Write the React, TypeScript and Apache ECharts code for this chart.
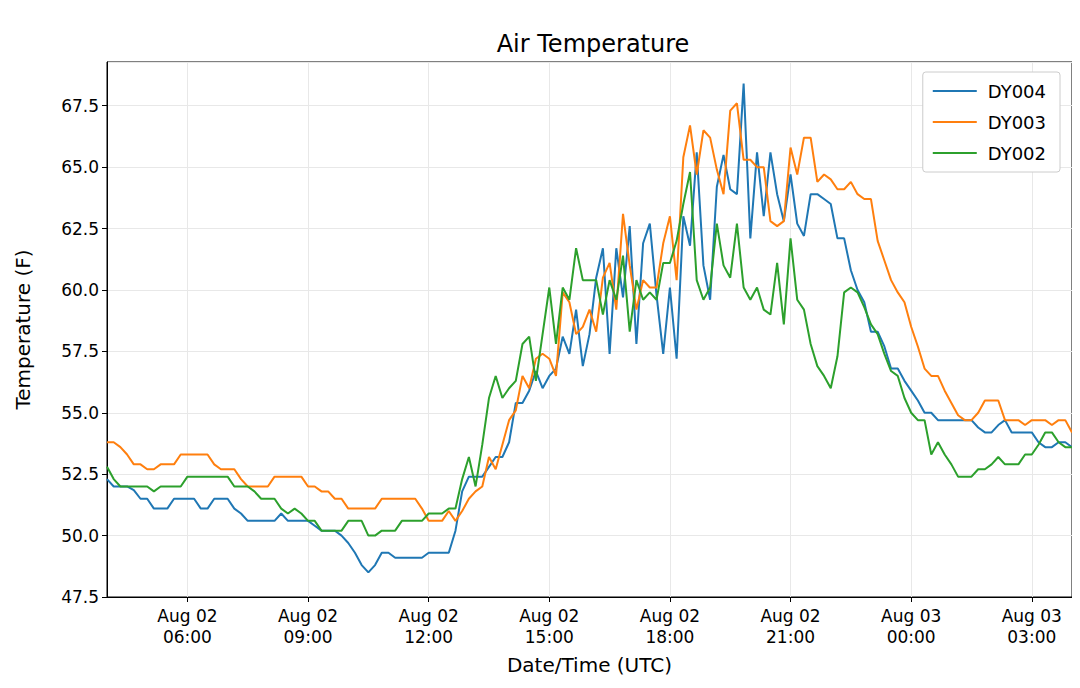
import React, { useEffect, useRef } from "react";
import * as echarts from "echarts";

// 10-minute samples starting Aug 02 04:00 UTC
const dy004 = [
  52.3,52.0,52.0,52.0,51.85,51.5,51.5,51.1,51.1,51.1,
  51.5,51.5,51.5,51.5,51.1,51.1,51.5,51.5,51.5,51.1,
  50.9,50.6,50.6,50.6,50.6,50.6,50.9,50.6,50.6,50.6,
  50.6,50.4,50.2,50.2,50.2,50.0,49.7,49.3,48.8,48.5,
  48.8,49.3,49.3,49.1,49.1,49.1,49.1,49.1,49.3,49.3,
  49.3,49.3,50.2,51.8,52.4,52.4,52.4,52.8,53.2,53.2,
  53.8,55.4,55.4,55.9,56.7,56.0,56.5,56.8,58.1,57.4,
  59.2,56.9,58.2,60.5,61.7,57.4,61.7,59.7,62.6,57.8,
  61.9,62.7,59.8,57.4,60.1,57.2,63.0,61.8,65.6,61.0,
  59.6,64.2,65.5,64.1,63.9,68.4,62.1,65.6,63.0,65.6,
  63.9,62.8,64.7,62.7,62.2,63.9,63.9,63.7,63.5,62.1,
  62.1,60.8,60.0,59.5,58.3,58.3,57.7,56.8,56.8,56.3,
  55.9,55.5,55.0,55.0,54.7,54.7,54.7,54.7,54.7,54.7,
  54.4,54.2,54.2,54.5,54.7,54.2,54.2,54.2,54.2,53.8,
  53.6,53.6,53.8,53.8,53.6,
];
const dy003 = [
  53.8,53.8,53.6,53.3,52.9,52.9,52.7,52.7,52.9,52.9,
  52.9,53.3,53.3,53.3,53.3,53.3,52.9,52.7,52.7,52.7,
  52.3,52.0,52.0,52.0,52.0,52.4,52.4,52.4,52.4,52.4,
  52.0,52.0,51.8,51.8,51.5,51.5,51.1,51.1,51.1,51.1,
  51.1,51.5,51.5,51.5,51.5,51.5,51.5,51.1,50.6,50.6,
  50.6,51.0,50.6,51.0,51.5,51.8,52.0,53.2,52.7,53.7,
  54.7,55.1,56.5,56.0,57.2,57.4,57.2,56.5,59.9,59.5,
  58.2,58.5,59.2,58.3,60.5,61.1,59.2,63.1,61.0,59.2,
  60.4,60.1,60.1,61.9,63.0,60.4,65.4,66.7,64.7,66.5,
  66.2,64.9,63.9,67.3,67.6,65.3,65.3,65.0,65.0,62.8,
  62.6,62.8,65.8,64.7,66.2,66.2,64.4,64.7,64.5,64.1,
  64.1,64.4,63.9,63.7,63.7,62.0,61.2,60.4,59.9,59.5,
  58.5,57.7,56.8,56.5,56.5,55.9,55.4,54.9,54.7,54.7,
  55.0,55.5,55.5,55.5,54.7,54.7,54.7,54.5,54.7,54.7,
  54.7,54.5,54.7,54.7,54.2,
];
const dy002 = [
  52.8,52.3,52.0,52.0,52.0,52.0,52.0,51.8,52.0,52.0,
  52.0,52.0,52.4,52.4,52.4,52.4,52.4,52.4,52.4,52.0,
  52.0,52.0,51.8,51.5,51.5,51.5,51.1,50.9,51.1,50.9,
  50.6,50.6,50.2,50.2,50.2,50.2,50.6,50.6,50.6,50.0,
  50.0,50.2,50.2,50.2,50.6,50.6,50.6,50.6,50.9,50.9,
  50.9,51.1,51.1,52.3,53.2,52.0,53.7,55.6,56.5,55.6,
  56.0,56.3,57.8,58.1,56.3,58.2,60.1,57.8,60.1,59.6,
  61.7,60.4,60.4,60.4,59.0,60.4,59.6,61.4,58.3,60.4,
  59.6,59.9,59.6,61.1,61.1,62.0,63.5,64.8,60.4,59.6,
  60.1,62.7,61.0,60.5,62.7,60.1,59.6,60.1,59.2,59.0,
  61.1,58.6,62.1,59.6,59.2,57.8,56.9,56.5,56.0,57.3,
  59.9,60.1,59.9,59.3,58.6,58.2,57.4,56.7,56.5,55.6,
  55.0,54.7,54.7,53.3,53.8,53.3,52.9,52.4,52.4,52.4,
  52.7,52.7,52.9,53.2,52.9,52.9,52.9,53.3,53.3,53.7,
  54.2,54.2,53.8,53.6,53.6,
];
// hours after Aug 02 04:00 where date/time labels sit
const tickHours = [2, 5, 8, 11, 14, 17, 20, 23];
const tickLabels = [
  "Aug 02\n06:00", "Aug 02\n09:00", "Aug 02\n12:00", "Aug 02\n15:00",
  "Aug 02\n18:00", "Aug 02\n21:00", "Aug 03\n00:00", "Aug 03\n03:00",
];

const toPairs = (arr: number[]) => arr.map((v, i) => [i / 6, v]);

export default function App() {
  const ref = useRef<HTMLDivElement>(null);
  useEffect(() => {
    const chart = echarts.init(ref.current!, null, { renderer: "svg" });
    const font = "DejaVu Sans";
    chart.setOption({
      animation: false,
      textStyle: { fontFamily: font },
      title: {
        text: "Air Temperature", left: 588, top: 27, textAlign: "center",
        textStyle: { fontSize: 24, fontWeight: "normal", color: "#000", fontFamily: font },
      },
      grid: { left: 107, right: 8, top: 62, bottom: 91, show: true, borderColor: "#000", borderWidth: 1 },
      legend: {
        orient: "vertical", right: 20, top: 72, itemWidth: 44, itemHeight: 2, itemGap: 13,
        padding: [10, 14, 10, 10], borderColor: "#ccc", borderWidth: 1, borderRadius: 3,
        backgroundColor: "#fff",
        textStyle: { fontSize: 18, color: "#000", fontFamily: font, padding: [0, 0, 0, 6] },
        icon: "rect",
      },
      xAxis: {
        type: "value", min: 0, max: 24,
        name: "Date/Time (UTC)", nameLocation: "middle", nameGap: 58,
        nameTextStyle: { fontSize: 20, color: "#000", fontFamily: font },
        axisLine: { lineStyle: { color: "#000" } },
        axisTick: { show: true, length: 5, customValues: tickHours, lineStyle: { color: "#000" } },
        axisLabel: {
          customValues: tickHours, fontSize: 17, color: "#000", lineHeight: 21, fontFamily: font,
          formatter: (v: number) => tickLabels[tickHours.indexOf(Math.round(v))] ?? "",
        },
        splitLine: { show: false },
      },
      yAxis: {
        type: "value", min: 47.5, max: 69.28, interval: 2.5,
        name: "Temperature (F)", nameLocation: "middle", nameGap: 74,
        nameTextStyle: { fontSize: 20, color: "#000", fontFamily: font },
        axisLine: { show: true, lineStyle: { color: "#000" } },
        axisTick: { show: true, length: 5, lineStyle: { color: "#000" } },
        axisLabel: {
          fontSize: 17, color: "#000", fontFamily: font, showMaxLabel: false,
          formatter: (v: number) => v.toFixed(1),
        },
        splitLine: { lineStyle: { color: "#e8e8e8" } },
      },
      series: [
        {
          name: "DY004", type: "line", data: toPairs(dy004), showSymbol: false,
          lineStyle: { width: 2, color: "#1f77b4" }, itemStyle: { color: "#1f77b4" }, z: 3,
          markLine: {
            silent: true, symbol: "none", label: { show: false },
            lineStyle: { color: "#e8e8e8", type: "solid", width: 1 },
            data: tickHours.map((h) => ({ xAxis: h })),
            z: 1,
          },
        },
        {
          name: "DY003", type: "line", data: toPairs(dy003), showSymbol: false,
          lineStyle: { width: 2, color: "#ff7f0e" }, itemStyle: { color: "#ff7f0e" }, z: 3,
        },
        {
          name: "DY002", type: "line", data: toPairs(dy002), showSymbol: false,
          lineStyle: { width: 2, color: "#2ca02c" }, itemStyle: { color: "#2ca02c" }, z: 3,
        },
      ],
    });
    return () => chart.dispose();
  }, []);
  return <div ref={ref} style={{ width: 1080, height: 688, margin: -8 }} />;
}
